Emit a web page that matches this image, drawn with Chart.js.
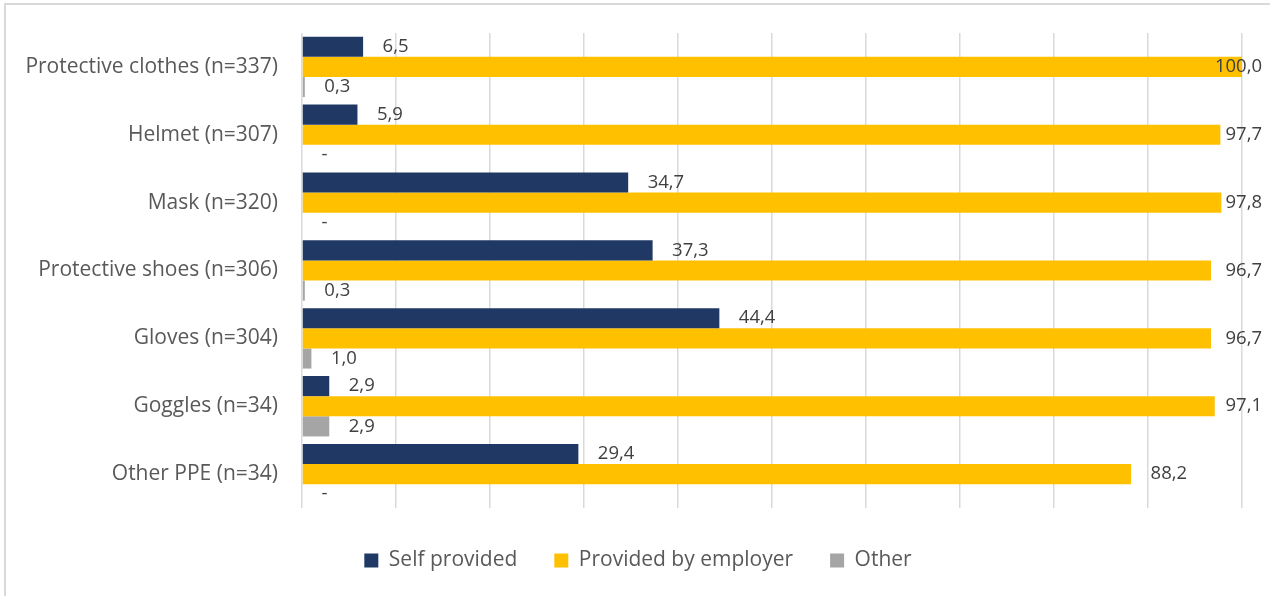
<!DOCTYPE html>
<html>
<head>
<meta charset="utf-8">
<script src="https://cdn.jsdelivr.net/npm/chart.js@4.4.1/dist/chart.umd.min.js"></script>
<style>
  html, body { margin: 0; padding: 0; background: #ffffff; }
  #wrap { position: relative; width: 1270px; height: 596px; }
</style>
</head>
<body>
<div id="wrap"><canvas id="ppe"></canvas></div>
<script>
// PPE items and share of respondents (%) by source of provision
const categories = [
  'Protective clothes (n=337)',
  'Helmet (n=307)',
  'Mask (n=320)',
  'Protective shoes (n=306)',
  'Gloves (n=304)',
  'Goggles (n=34)',
  'Other PPE (n=34)'
];
const seriesNames = ['Self provided', 'Provided by employer', 'Other'];
const selfProvided = [6.5, 5.9, 34.7, 37.3, 44.4, 2.9, 29.4];
const byEmployer   = [100.0, 97.7, 97.8, 96.7, 96.7, 97.1, 88.2];
const otherSource  = [0.3, 0, 0, 0.3, 1.0, 2.9, 0];
const axisTicks = [0, 10, 20, 30, 40, 50, 60, 70, 80, 90, 100];

const FONT = "'Open Sans', 'Noto Sans', sans-serif";
const TEXT_GREY = '#595959';
const LABEL_GREY = '#404040';

// value labels at the end of each bar, decimal comma, '-' for zero
const barValueLabels = {
  id: 'barValueLabels',
  afterDatasetsDraw(chart) {
    const ctx = chart.ctx;
    const limit = chart.width - 8;
    ctx.save();
    ctx.font = '18.5px ' + FONT;
    ctx.fillStyle = LABEL_GREY;
    ctx.textBaseline = 'middle';
    ctx.textAlign = 'left';
    chart.data.datasets.forEach((ds, di) => {
      const meta = chart.getDatasetMeta(di);
      meta.data.forEach((bar, i) => {
        const v = ds.data[i];
        const txt = v === 0 ? '-' : v.toFixed(1).replace('.', ',');
        const w = ctx.measureText(txt).width;
        let x = bar.x + 19.5;
        if (x + w > limit) x = limit - w;
        ctx.fillText(txt, x, bar.y);
      });
    });
    ctx.restore();
  }
};

// thin frame along the chart's top and left edges
const chartFrame = {
  id: 'chartFrame',
  beforeDraw(chart) {
    const ctx = chart.ctx;
    ctx.save();
    ctx.strokeStyle = '#d9d9d9';
    ctx.lineWidth = 2;
    ctx.beginPath();
    ctx.moveTo(5, chart.height + 5);
    ctx.lineTo(5, 4);
    ctx.lineTo(chart.width + 5, 4);
    ctx.stroke();
    ctx.restore();
  }
};

// nudge the legend row a little right and down
const legendOffset = {
  id: 'legendOffset',
  afterLayout(chart) {
    const lg = chart.legend;
    if (!lg) return;
    lg.left += 17; lg.right += 17;
    lg.top += 5; lg.bottom += 5;
  }
};

new Chart(document.getElementById('ppe'), {
  type: 'bar',
  data: {
    labels: categories,
    datasets: [
      { label: seriesNames[0], data: selfProvided, backgroundColor: '#203864' },
      { label: seriesNames[1], data: byEmployer,   backgroundColor: '#FFC000' },
      { label: seriesNames[2], data: otherSource,  backgroundColor: '#A5A5A5' }
    ]
  },
  options: {
    indexAxis: 'y',
    responsive: true,
    maintainAspectRatio: false,
    animation: false,
    devicePixelRatio: 1,
    layout: { padding: { top: 33, right: 28, bottom: 20, left: 0 } },
    datasets: {
      bar: { categoryPercentage: 0.89, barPercentage: 1.0, borderWidth: 0 }
    },
    scales: {
      x: {
        min: axisTicks[0],
        max: axisTicks[axisTicks.length - 1],
        afterBuildTicks(scale) { scale.ticks = axisTicks.map(v => ({ value: v })); },
        ticks: { display: false },
        border: { display: false },
        grid: { color: '#d9d9d9', lineWidth: 1.5, drawTicks: false }
      },
      y: {
        afterFit(scale) {
          scale.width = 302;
          scale.paddingTop = 0;
          scale.paddingBottom = 0;
        },
        ticks: { color: TEXT_GREY, font: { family: FONT, size: 21 }, padding: 24 },
        border: { display: false },
        grid: { display: false, drawTicks: false }
      }
    },
    plugins: {
      legend: {
        position: 'bottom',
        labels: {
          color: TEXT_GREY,
          font: { family: FONT, size: 21 },
          boxWidth: 14,
          boxHeight: 14,
          padding: 37
        }
      },
      tooltip: { enabled: false }
    }
  },
  plugins: [barValueLabels, chartFrame, legendOffset]
});
</script>
</body>
</html>
